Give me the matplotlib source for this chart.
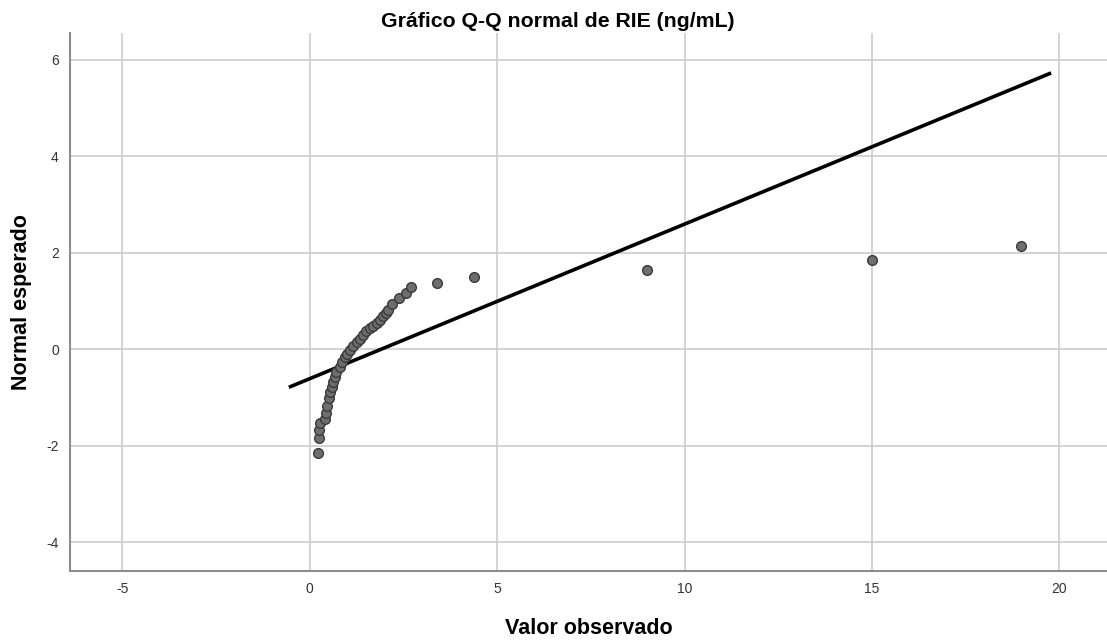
import matplotlib
matplotlib.use('Agg')
import matplotlib.pyplot as plt

plt.rcParams['font.family'] = ['Liberation Sans', 'DejaVu Sans']
plt.rcParams['axes.unicode_minus'] = False

observado = [0.22, 0.25, 0.24, 0.27, 0.40, 0.44, 0.47, 0.52, 0.53, 0.58,
             0.62, 0.67, 0.71, 0.80, 0.87, 0.93, 1.00, 1.07, 1.16, 1.25,
             1.33, 1.42, 1.51, 1.60, 1.69, 1.78, 1.87, 1.96, 2.03, 2.09,
             2.18, 2.37, 2.56, 2.70, 3.38, 4.39, 8.99, 15.0, 18.98]
esperado = [-2.15, -1.85, -1.67, -1.54, -1.44, -1.33, -1.18, -1.02, -0.89, -0.78,
            -0.68, -0.57, -0.47, -0.37, -0.26, -0.17, -0.09, -0.02, 0.06, 0.15,
            0.22, 0.29, 0.37, 0.43, 0.49, 0.55, 0.61, 0.68, 0.75, 0.82,
            0.93, 1.07, 1.17, 1.28, 1.38, 1.50, 1.64, 1.85, 2.14]

# recta de referencia
linea_x = [-0.56, 19.78]
linea_y = [-0.79, 5.73]

xticks = [-5, 0, 5, 10, 15, 20]
yticks = [-4, -2, 0, 2, 4, 6]

fig = plt.figure(figsize=(11.07, 6.43), dpi=100)
ax = fig.add_axes([0.0632, 0.112, 0.9368, 0.8368])

ax.plot(linea_x, linea_y, color='black', lw=2.6, solid_capstyle='butt', zorder=3)
ax.plot(observado, esperado, 'o', ms=7, mfc='#6e6e6e', mec='#3a3a3a', mew=1.0, zorder=4)

ax.set_xlim(-6.4, 21.27)
ax.set_ylim(-4.6, 6.56)
ax.set_xticks(xticks)
ax.set_yticks(yticks)
ax.tick_params(length=0, labelsize=10, colors='#333333', pad=8)
ax.grid(True, color='#cccccc', lw=1.2)
ax.set_axisbelow(True)

for s in ['top', 'right']:
    ax.spines[s].set_visible(False)
for s in ['left', 'bottom']:
    ax.spines[s].set_color('#8c8c8c')
    ax.spines[s].set_linewidth(1.5)

ax.set_xlabel('Valor observado', fontsize=15.5, fontweight='bold', labelpad=16)
ax.set_ylabel('Normal esperado', fontsize=15.5, fontweight='bold', labelpad=10)
fig.text(0.504, 0.982, 'Gráfico Q-Q normal de RIE (ng/mL)', ha='center', va='top',
         fontsize=15.3, fontweight='bold')

fig.savefig('out.png', dpi=100)
